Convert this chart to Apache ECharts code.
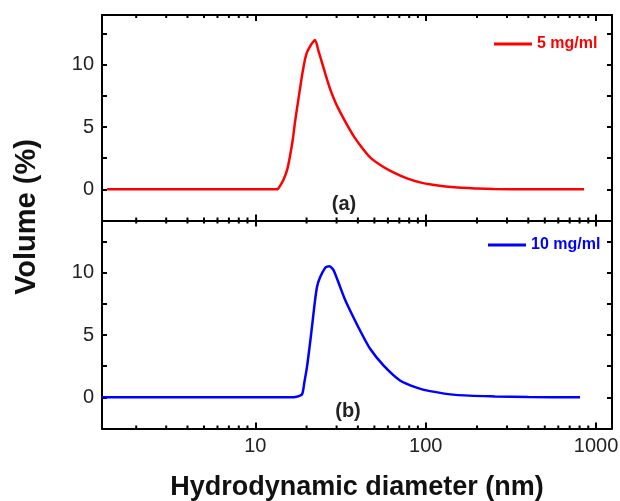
<!DOCTYPE html>
<html>
<head>
<meta charset="utf-8">
<script src="https://cdn.jsdelivr.net/npm/echarts@6/dist/echarts.min.js"></script>
<style>
    html, body { margin: 0; padding: 0; background: #fff; }
    #chart { width: 620px; height: 501px; }
</style>
</head>
<body>
<div id="chart"></div>
<script>
// 5 mg/ml, [diameter nm, volume %]
const sample5 = [
    [1.35, 0], [13.4, 0], [14.0, 0.3], [14.7, 0.83], [15.4, 1.6], [16.0, 2.7], [16.6, 4.0],
    [17.1, 5.4], [17.8, 7.0], [18.4, 8.3], [19.0, 9.5], [19.6, 10.46], [20.1, 11.0], [21.0, 11.5],
    [21.7, 11.8], [22.4, 12.0], [23.5, 11.1], [24.6, 10.2], [26.0, 9.1], [27.5, 8.05], [29.5, 7.0],
    [31.5, 6.2], [34.5, 5.2], [37.7, 4.3], [42, 3.4], [47.2, 2.57], [55, 1.9], [64.6, 1.36],
    [77, 0.9], [92.7, 0.56], [115, 0.33], [147, 0.16], [200, 0.07], [250, 0.03], [400, 0.01], [850, 0]
];
// 10 mg/ml
const sample10 = [
    [1.26, 0], [16.0, 0], [17.5, 0.05], [18.8, 0.24], [19.4, 1.2], [20.1, 2.43], [20.8, 4.0],
    [21.5, 5.64], [22.2, 7.3], [23.0, 8.85], [24.0, 9.65], [25.7, 10.4], [26.4, 10.5], [27.2, 10.53],
    [28.1, 10.4], [29.0, 10.13], [31.5, 8.85], [33.5, 7.9], [36.0, 6.98], [41.2, 5.37], [47.2, 3.9],
    [56.5, 2.57], [70.7, 1.36], [88.5, 0.78], [106, 0.5], [150, 0.2], [255, 0.07], [400, 0.02], [805, 0]
];
const seriesNames = ['5 mg/ml', '10 mg/ml'];
const panelLabels = ['(a)', '(b)'];
const xMajorLabels = [10, 100, 1000];
const xMinorTicks = [2, 3, 4, 5, 6, 7, 8, 9, 20, 30, 40, 50, 60, 70, 80, 90, 200, 300, 400, 500, 600, 700, 800, 900];
const yRanges = [[-2.5, 14], [-2.5, 14.2]];

const font = 'Liberation Sans, Arial, sans-serif';
const grids = [
    { left: 102, right: 8, top: 15, height: 205.5, outerBoundsMode: 'none' },
    { left: 102, right: 8, top: 220.5, height: 208, outerBoundsMode: 'none' }
];

function xAxisFor(gridIndex, position, withLabels) {
    return {
        type: 'log',
        gridIndex,
        position,
        min: 1.26,
        max: 1240,
        logBase: 10,
        axisLine: { onZero: false, lineStyle: { color: '#000', width: 2 } },
        axisTick: { inside: true, length: 6, lineStyle: { color: '#000', width: 2 } },
        splitLine: { show: false },
        axisLabel: {
            show: withLabels,
            margin: 8,
            fontSize: 20,
            fontFamily: font,
            color: '#222',
            formatter(v) {
                const r = Math.round(v);
                return xMajorLabels.indexOf(r) >= 0 && Math.abs(v - r) < 1e-6 ? String(r) : '';
            }
        },
        name: withLabels ? 'Hydrodynamic diameter (nm)' : '',
        nameLocation: 'middle',
        nameGap: 46,
        nameTextStyle: { fontSize: 27, fontWeight: 'bold', fontFamily: font, color: '#111' }
    };
}

function yAxisFor(gridIndex, position, withLabels) {
    const r = yRanges[gridIndex];
    return {
        type: 'value',
        gridIndex,
        position,
        min: r[0],
        max: r[1],
        interval: 2.5,
        axisLine: { onZero: false, lineStyle: { color: '#000', width: 2 } },
        axisTick: { inside: true, length: 5, lineStyle: { color: '#000', width: 2 } },
        splitLine: { show: false },
        axisLabel: {
            show: withLabels,
            margin: 8,
            fontSize: 20,
            fontFamily: font,
            color: '#222',
            formatter(v) {
                return Math.abs(v % 5) < 1e-6 ? String(v) : '';
            }
        }
    };
}

// short inward ticks at 2..9 of each decade, top and bottom edge of a panel
function minorTickSeries(gridIndex) {
    const r = yRanges[gridIndex];
    return {
        type: 'custom',
        xAxisIndex: gridIndex * 2,
        yAxisIndex: gridIndex * 2,
        silent: true,
        clip: false,
        data: xMinorTicks.map(v => [v, 0]),
        renderItem(params, api) {
            const bot = api.coord([api.value(0), r[0]]);
            const top = api.coord([api.value(0), r[1]]);
            const style = { stroke: '#000', lineWidth: 2 };
            return {
                type: 'group',
                children: [
                    { type: 'line', shape: { x1: bot[0], y1: bot[1], x2: bot[0], y2: bot[1] - 3 }, style },
                    { type: 'line', shape: { x1: top[0], y1: top[1], x2: top[0], y2: top[1] + 3 }, style }
                ]
            };
        }
    };
}

const chart = echarts.init(document.getElementById('chart'));
chart.setOption({
    animation: false,
    backgroundColor: '#fff',
    grid: grids,
    xAxis: [
        xAxisFor(0, 'bottom', false), xAxisFor(0, 'top', false),
        xAxisFor(1, 'bottom', true), xAxisFor(1, 'top', false)
    ],
    yAxis: [
        yAxisFor(0, 'left', true), yAxisFor(0, 'right', false),
        yAxisFor(1, 'left', true), yAxisFor(1, 'right', false)
    ],
    legend: [
        {
            data: [seriesNames[0]],
            left: 489,
            top: 31,
            icon: 'rect',
            itemWidth: 38,
            itemHeight: 3,
            itemGap: 4,
            selectedMode: false,
            textStyle: { color: '#ff0000', fontWeight: 'bold', fontSize: 16, fontFamily: font }
        },
        {
            data: [seriesNames[1]],
            left: 483,
            top: 232,
            icon: 'rect',
            itemWidth: 38,
            itemHeight: 3,
            selectedMode: false,
            textStyle: { color: '#0000ff', fontWeight: 'bold', fontSize: 16, fontFamily: font }
        }
    ],
    graphic: [
        {
            type: 'text',
            x: 27,
            y: 217,
            rotation: Math.PI / 2,
            style: {
                text: 'Volume (%)',
                font: 'bold 29px ' + font,
                fill: '#111',
                align: 'center',
                verticalAlign: 'middle'
            }
        },
        {
            type: 'text',
            x: 344,
            y: 204,
            style: { text: panelLabels[0], font: 'bold 20px ' + font, fill: '#222', align: 'center', verticalAlign: 'middle' }
        },
        {
            type: 'text',
            x: 348,
            y: 411,
            style: { text: panelLabels[1], font: 'bold 20px ' + font, fill: '#222', align: 'center', verticalAlign: 'middle' }
        }
    ],
    series: [
        {
            name: seriesNames[0],
            type: 'line',
            xAxisIndex: 0,
            yAxisIndex: 0,
            data: sample5,
            showSymbol: false,
            smooth: 0.25,
            color: '#ff0000',
            lineStyle: { width: 2.5 }
        },
        {
            name: seriesNames[1],
            type: 'line',
            xAxisIndex: 2,
            yAxisIndex: 2,
            data: sample10,
            showSymbol: false,
            smooth: 0.25,
            color: '#0000ff',
            lineStyle: { width: 2.5 }
        },
        minorTickSeries(0),
        minorTickSeries(1)
    ]
});
</script>
</body>
</html>
